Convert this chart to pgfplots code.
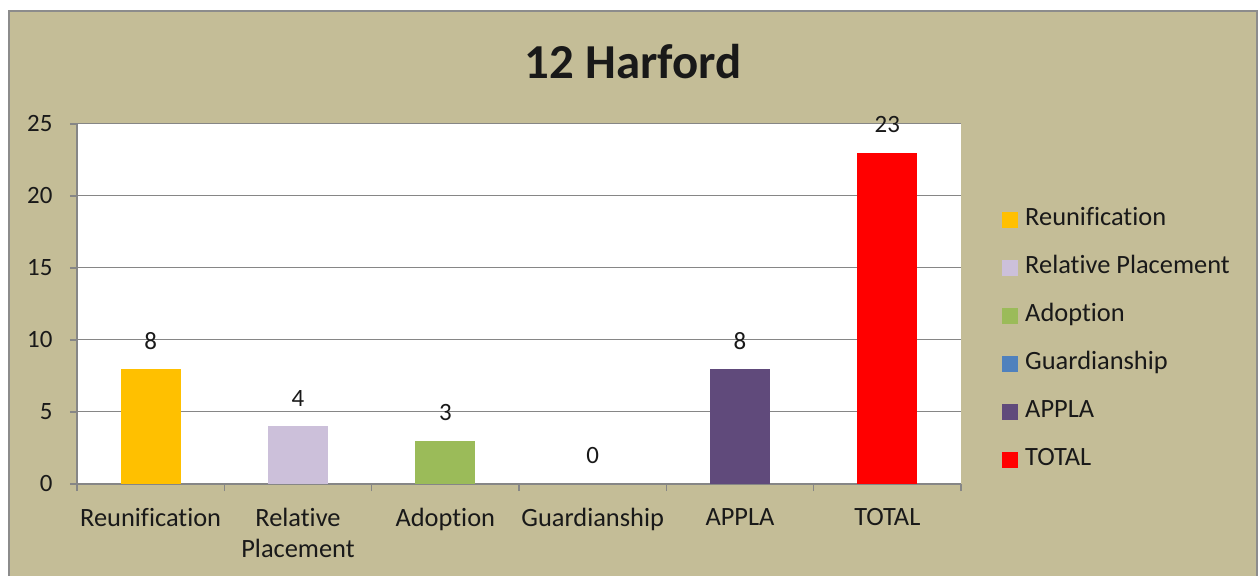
\documentclass[border=0pt]{standalone}
\usepackage{pgfplots}
\pgfplotsset{compat=1.18}
\usepackage{fontspec}
\setmainfont{Carlito}[Ligatures=CommonOff]
\definecolor{bg}{HTML}{C4BD97}
\definecolor{bordergray}{HTML}{8C8C8C}
\definecolor{axisgray}{HTML}{868686}
\definecolor{cReu}{HTML}{FFC000}
\definecolor{cRel}{HTML}{CCC0DA}
\definecolor{cAdo}{HTML}{9BBB59}
\definecolor{cGua}{HTML}{4F81BD}
\definecolor{cApp}{HTML}{604A7B}
\definecolor{cTot}{HTML}{FF0000}
\newcommand{\lbl}{\fontsize{26.5}{31}\selectfont}
\newcommand{\num}{\fontsize{25}{30}\selectfont}
\begin{document}
\begin{tikzpicture}
\useasboundingbox (0bp,0bp) rectangle (1258bp,576bp);
\fill[white] (0bp,0bp) rectangle (1258bp,576bp);
\filldraw[fill=bg, draw=bordergray, line width=2bp] (9bp,565bp) rectangle (1256.5bp,-10bp);
\node[font=\bfseries\fontsize{49}{58}\selectfont, text=black!90] at (633bp,514bp) {12 Harford};
\begin{axis}[
  at={(77bp,92bp)}, anchor=south west, scale only axis,
  width=884bp, height=360bp,
  ybar,
  xmin=-0.5, xmax=5.5, ymin=0, ymax=25,
  axis background/.style={fill=white},
  axis x line*=bottom, axis y line*=left,
  axis line style={draw=axisgray, line width=1.2bp},
  tick align=outside, major tick length=7bp,
  tick style={draw=axisgray, line width=1.2bp},
  xtick={-0.5,0.5,...,5.5}, xticklabels={},
  extra x ticks={0,1,2,3,4,5},
  extra x tick labels={Reunification,{Relative\\Placement},Adoption,Guardianship,APPLA,TOTAL},
  extra x tick style={major tick length=0pt, grid=none,
    xticklabel style={align=center, font=\lbl, text=black!90, yshift=-21bp}},
  ytick={0,5,...,25},
  yticklabel style={font=\num, text=black!90, xshift=-14bp},
  /pgf/number format/assume math mode=true,
  ymajorgrids, grid style={draw=axisgray, line width=1bp},
  nodes near coords,
  every node near coord/.append style={font=\num, text=black!90, anchor=center, yshift=28bp},
  legend cell align=left,
  legend style={at={(1.0464,0.772)}, anchor=north west, draw=none, fill=none,
    inner sep=0pt, font=\lbl, text=black!90, row sep=21bp,
    nodes={inner sep=2bp, text height=17bp, text depth=6bp},
    /tikz/every odd column/.append style={column sep=5bp}},
  mybar/.style={fill=#1, draw=none, bar width=60bp, bar shift=0pt,
    legend image code/.code={\fill[fill=#1] (0bp,-8bp) rectangle (16bp,8bp);}},
]
\addplot[mybar=cReu] coordinates {(0,8)};
\addplot[mybar=cRel] coordinates {(1,4)};
\addplot[mybar=cAdo] coordinates {(2,3)};
\addplot[mybar=cGua] coordinates {(3,0)};
\addplot[mybar=cApp] coordinates {(4,8)};
\addplot[mybar=cTot] coordinates {(5,23)};
\legend{Reunification,Relative Placement,Adoption,Guardianship,APPLA,TOTAL}
\end{axis}
\end{tikzpicture}
\end{document}
